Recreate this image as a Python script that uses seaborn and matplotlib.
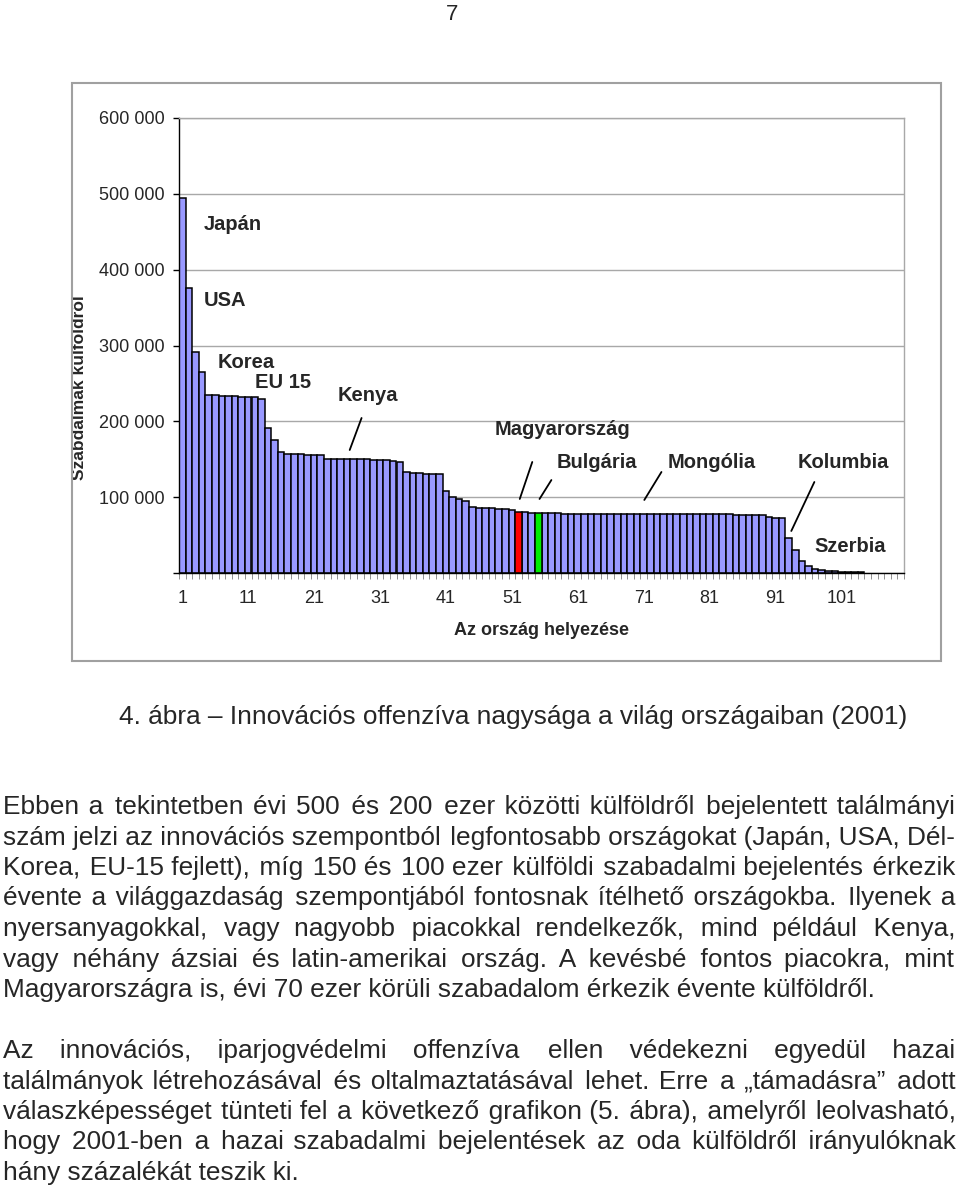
import matplotlib.pyplot as plt
import numpy as np
import pandas as pd
import seaborn as sns
from matplotlib.patches import Rectangle

W, H = 960, 1187

# rank of the country on the x axis (110 categories, the last ones are empty)
ranks = list(range(1, 111))
# patent applications from abroad
patents = [
    495000, 376000, 292000, 265000, 235000, 234500, 234000, 233500, 233000, 232000,
    232000, 231500, 230000, 191000, 175500, 159000, 157000, 157000, 156500, 156000,
    155500, 155000, 150500, 150000, 150000, 150000, 150000, 150000, 149800, 149500,
    149000, 148500, 148000, 146800, 132800, 132000, 131500, 131000, 130800, 130600,
    108600, 99800, 97200, 95000, 86500, 86300, 86000, 85500, 85000, 84000,
    83000, 80900, 80000, 79500, 78800, 78600, 78500, 78500, 78400, 78400,
    78300, 78300, 78200, 78200, 78100, 78100, 78000, 78000, 77900, 77900,
    77800, 77800, 77700, 77700, 77600, 77600, 77500, 77500, 77400, 77400,
    77300, 77300, 77200, 77200, 77100, 77000, 77000, 76900, 76800, 73500,
    73000, 72500, 46600, 29800, 15800, 9700, 5300, 3800, 3000, 2400,
    1900, 1500, 1100, 800,
]
hungary_rank = 52
bulgaria_rank = 55

y_ticks = [0, 100000, 200000, 300000, 400000, 500000, 600000]
x_labels = ["1", "11", "21", "31", "41", "51", "61", "71", "81", "91", "101"]

# country names written on the chart (x in category units, y in patents)
country_names = ["Japán", "USA", "Korea", "EU 15", "Kenya", "Magyarország",
                 "Bulgária", "Mongólia", "Kolumbia", "Szerbia"]
name_x = [3.3, 3.3, 5.4, 11.0, 23.6, 47.4, 56.8, 73.6, 93.3, 95.9]
name_y = [459000, 360000, 277000, 250600, 234700, 188600, 145100, 145100, 145100, 35600]

# little pointer lines from a name to its bar
pointers = [
    (27.2, 204400, 25.4, 162200),
    (53.1, 146400, 51.2, 97600),
    (56.0, 122600, 54.2, 97600),
    (72.7, 133200, 70.1, 96300),
    (95.9, 120000, 92.4, 55400),
]

caption = "4. ábra – Innovációs offenzíva nagysága a világ országaiban (2001)"
para1 = [
    "Ebben a tekintetben évi 500 és 200 ezer közötti külföldről bejelentett találmányi",
    "szám jelzi az innovációs szempontból legfontosabb országokat (Japán, USA, Dél-",
    "Korea, EU-15 fejlett), míg 150 és 100 ezer külföldi szabadalmi bejelentés érkezik",
    "évente a világgazdaság szempontjából fontosnak ítélhető országokba. Ilyenek a",
    "nyersanyagokkal, vagy nagyobb piacokkal rendelkezők, mind például Kenya,",
    "vagy néhány ázsiai és latin-amerikai ország. A kevésbé fontos piacokra, mint",
    "Magyarországra is, évi 70 ezer körüli szabadalom érkezik évente külföldről.",
]
para2 = [
    "Az innovációs, iparjogvédelmi offenzíva ellen védekezni egyedül hazai",
    "találmányok létrehozásával és oltalmaztatásával lehet. Erre a „támadásra” adott",
    "válaszképességet tünteti fel a következő grafikon (5. ábra), amelyről leolvasható,",
    "hogy 2001-ben a hazai szabadalmi bejelentések az oda külföldről irányulóknak",
    "hány százalékát teszik ki.",
]

sns.set_theme(style="white")
plt.rcParams["font.family"] = ["Liberation Sans", "DejaVu Sans"]

df = pd.DataFrame({"rank": [str(r) for r in ranks[: len(patents)]], "patents": patents})
df["group"] = "other"
df.loc[df["rank"] == str(hungary_rank), "group"] = "hu"
df.loc[df["rank"] == str(bulgaria_rank), "group"] = "bg"

fig = plt.figure(figsize=(W / 100, H / 100), dpi=100)
fig.patch.set_facecolor("white")
ax = fig.add_axes([179 / W, 1 - 573 / H, (904 - 179) / W, (573 - 118) / H])

sns.barplot(
    df,
    x="rank",
    y="patents",
    hue="group",
    order=[str(r) for r in ranks],
    palette={"other": "#9999FF", "hu": "#FF0000", "bg": "#00EE00"},
    width=1,
    dodge=False,
    saturation=1,
    edgecolor="black",
    linewidth=1.1,
    legend=False,
    ax=ax,
)

ax.set_xlim(-0.5, len(ranks) - 0.5)
ax.set_ylim(0, 600000)
ax.set_yticks(y_ticks)
ax.set_yticklabels([""] + [f"{v:,}".replace(",", " ") for v in y_ticks[1:]], fontsize=13)
ax.yaxis.grid(True, color="#A8A8A8", lw=1)
ax.set_axisbelow(True)

ax.set_xticks([int(s) - 1 for s in x_labels])
ax.set_xticklabels(x_labels, fontsize=13)
ax.set_xticks(np.arange(-0.5, len(ranks), 1), minor=True)
ax.tick_params(axis="x", which="major", length=0, pad=12)
ax.tick_params(axis="x", which="minor", length=4, width=0.7, color="#909090", bottom=True)
ax.tick_params(axis="y", length=4, width=1, color="black", left=True, pad=6)

for side in ["left", "bottom"]:
    ax.spines[side].set_color("black")
    ax.spines[side].set_linewidth(1)
for side in ["top", "right"]:
    ax.spines[side].set_color("#A8A8A8")
    ax.spines[side].set_linewidth(1)

ax.set_xlabel("Az ország helyezése", fontsize=13, fontweight="bold")
ax.xaxis.label.set_va("center")
ax.xaxis.set_label_coords(0.5, (573 - 630) / 455)
ax.set_ylabel("Szabdalmak külföldről", fontsize=12.5, fontweight="bold")
ax.yaxis.label.set_va("center")
ax.yaxis.set_label_coords((80 - 179) / 725, (573 - 388) / 455)

for name, x, y in zip(country_names, name_x, name_y):
    ax.text(x, y, name, fontsize=14.5, fontweight="bold", ha="left", va="center")
for x0, y0, x1, y1 in pointers:
    ax.plot([x0, x1], [y0, y1], color="black", lw=1.3, clip_on=False)

# grey frame around the whole chart
fig.add_artist(Rectangle((72 / W, 1 - 661 / H), (941 - 72) / W, (661 - 83) / H,
                         transform=fig.transFigure, fill=False, ec="#A0A0A0", lw=1.5))

# page text, justified by padding the gaps with normal and hair spaces
BODY = 18.9
LEFT, RIGHT = 3, 955
HAIR = "\u200a"
renderer = fig.canvas.get_renderer()


def measure(s):
    t = fig.text(0, 0, s, fontsize=BODY)
    w = t.get_window_extent(renderer).width
    t.remove()
    return w


space_w = measure("a a") - measure("aa")
hair_w = max(measure("a" + HAIR + "a") - measure("aa"), 0.5)


def put_line(text, baseline, justify):
    words = text.split(" ")
    out = text
    if justify and len(words) > 1:
        widths = [measure(w) for w in words]
        gap = (RIGHT - LEFT - sum(widths)) / (len(words) - 1)
        out = words[0]
        err = 0.0
        for w in words[1:]:
            need = gap + err
            n_sp = max(1, int(need // space_w))
            n_hair = max(0, round((need - n_sp * space_w) / hair_w))
            err = need - n_sp * space_w - n_hair * hair_w
            out += " " * n_sp + HAIR * n_hair + w
    fig.text(LEFT / W, 1 - baseline / H, out, fontsize=BODY, va="baseline")


fig.text(452 / W, 1 - 20 / H, "7", fontsize=16, ha="center", va="baseline")
fig.text(119 / W, 1 - 724 / H, caption, fontsize=BODY, va="baseline")

for i, line in enumerate(para1):
    put_line(line, 814 + i * 30.5, i < len(para1) - 1)
for i, line in enumerate(para2):
    put_line(line, 1058 + i * 30.5, i < len(para2) - 1)

fig.savefig("out.png", dpi=100, facecolor="white")
